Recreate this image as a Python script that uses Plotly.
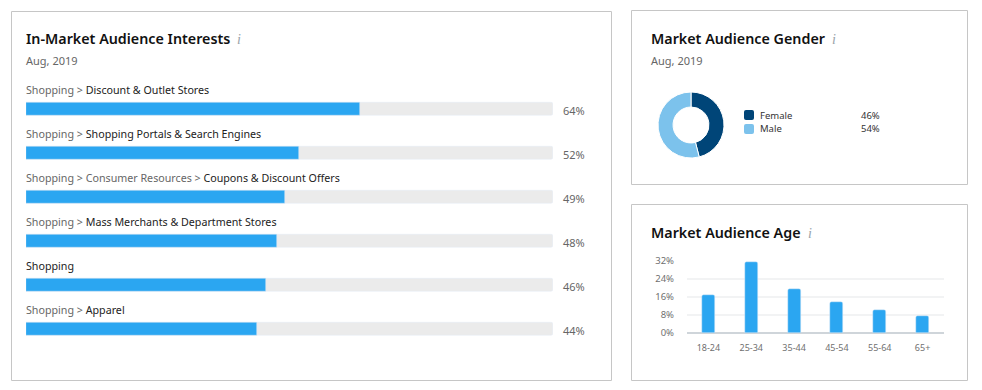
import plotly.graph_objects as go

W, H = 982, 390

# ---- data ----
interest_parents = ["Shopping > ", "Shopping > ", "Shopping > Consumer Resources > ",
                    "Shopping > ", "", "Shopping > "]
interest_leaves = ["Discount & Outlet Stores", "Shopping Portals & Search Engines",
                   "Coupons & Discount Offers", "Mass Merchants & Department Stores",
                   "Shopping", "Apparel"]
interest_values = [63.4, 51.8, 49.1, 47.6, 45.5, 43.8]
interest_labels = ["64%", "52%", "49%", "48%", "46%", "44%"]
track_values = [100, 100, 100, 100, 100, 100]

gender_labels = ["Female", "Male"]
gender_values = [46, 54]
gender_texts = ["46%", "54%"]

age_labels = ["18-24", "25-34", "35-44", "45-54", "55-64", "65+"]
age_values = [17.0, 31.4, 19.4, 13.6, 10.4, 7.6]
age_ticks = [0, 8, 16, 24, 32]
age_ticktext = ["0%", "8%", "16%", "24%", "32%"]

# ---- style ----
FONT = "Noto Sans"
BLUE = "#2ba6f1"
TRACK = "#ebebeb"
BORDER = "#c6c6c6"
DARK = "#004578"
LIGHT = "#7cc2ec"
INK = "#111111"
GREY = "#666666"


def px(x):
    return x / W


def py(y):
    return 1 - y / H


def rrect(x0, y0, x1, y1, r=2):
    X0, X1, Y0, Y1 = px(x0), px(x1), py(y0), py(y1)
    rx, ry = r / W, r / H
    return (f"M{X0+rx},{Y0} L{X1-rx},{Y0} Q{X1},{Y0} {X1},{Y0-ry} L{X1},{Y1+ry} Q{X1},{Y1} {X1-rx},{Y1} "
            f"L{X0+rx},{Y1} Q{X0},{Y1} {X0},{Y1+ry} L{X0},{Y0-ry} Q{X0},{Y0} {X0+rx},{Y0} Z")


fig = go.Figure()

rows = list(range(len(interest_leaves)))
fig.add_trace(go.Bar(x=track_values, y=rows, orientation="h", marker_color=TRACK,
                     width=13 / 44, xaxis="x", yaxis="y", hoverinfo="skip"))
fig.add_trace(go.Bar(x=interest_values, y=rows, orientation="h", marker_color=BLUE,
                     width=13 / 44, xaxis="x", yaxis="y"))

fig.add_trace(go.Pie(labels=gender_labels, values=gender_values, hole=0.545, sort=False,
                     direction="clockwise", rotation=0, textinfo="none", showlegend=False,
                     marker=dict(colors=[DARK, LIGHT], line=dict(color="white", width=1)),
                     domain=dict(x=[px(658), px(724)], y=[py(158), py(92)])))

fig.add_trace(go.Bar(x=age_labels, y=age_values, marker_color=BLUE, width=0.3,
                     xaxis="x2", yaxis="y2"))

annotations = []


def text(x, y, s, size=11, color=GREY, anchor="left", family=FONT, weight=None):
    annotations.append(dict(xref="paper", yref="paper", x=px(x), y=py(y), text=s, showarrow=False,
                            xanchor=anchor, yanchor="middle", align="left",
                            font=dict(family=family, size=size, color=color, weight=weight),
                            borderpad=0, borderwidth=0))


def title(x, y, s, icon_x):
    text(x, y, s, size=14.3, color=INK, weight=600)
    text(icon_x, y + 1, "<i>i</i>", size=14, color="#98a3a9", family="Liberation Serif")


title(26, 38.5, "In-Market Audience Interests", 237)
text(26, 60.5, "Aug, 2019")
title(651, 38.5, "Market Audience Gender", 832)
text(651, 60.5, "Aug, 2019")
title(651, 232, "Market Audience Age", 808)

for i, (parent, leaf, label) in enumerate(zip(interest_parents, interest_leaves, interest_labels)):
    s = (f"<span style='color:{GREY}'>{parent}</span>" if parent else "") + f"<span style='color:#222222'>{leaf}</span>"
    annotations.append(dict(xref="x", yref="y", x=0, y=i, xshift=-1, yshift=19, text=s, showarrow=False, borderpad=0,
                            xanchor="left", yanchor="middle", font=dict(family=FONT, size=10.7)))
    annotations.append(dict(xref="x", yref="y", x=100, y=i, xshift=9, yshift=-1.5, text=label, showarrow=False, borderpad=0,
                            xanchor="left", yanchor="middle", font=dict(family=FONT, size=11, color=GREY)))

swatch_y = [115, 129]
shapes = [
    dict(type="rect", xref="paper", yref="paper", x0=px(x0), x1=px(x1), y0=py(y1), y1=py(y0),
         line=dict(color=BORDER, width=1), fillcolor="white", layer="below")
    for x0, y0, x1, y1 in [(11.5, 11.5, 611.5, 380.5), (631.5, 10.5, 967.5, 184.5), (631.5, 204.5, 967.5, 380.5)]
]
for name, val, yc, col in zip(gender_labels, gender_texts, swatch_y, [DARK, LIGHT]):
    shapes.append(dict(type="path", xref="paper", yref="paper", path=rrect(744, yc - 5, 754, yc + 5),
                       fillcolor=col, line=dict(width=0)))
    text(760, yc, name, size=9.5, color="#333333")
    text(861, yc, val, size=9.5, color="#333333")

fig.update_layout(
    width=W, height=H, margin=dict(l=0, r=0, t=0, b=0, autoexpand=False), autosize=False,
    paper_bgcolor="white", plot_bgcolor="rgba(0,0,0,0)", showlegend=False,
    barmode="overlay", bargap=0, barcornerradius=2,
    font=dict(family=FONT, size=9, color=GREY),
    shapes=shapes, annotations=annotations,
    xaxis=dict(domain=[px(26), px(553)], range=[0, 100], visible=False, fixedrange=True),
    yaxis=dict(domain=[py(350.5), py(86.5)], range=[5.5, -0.5], visible=False, fixedrange=True),
    xaxis2=dict(domain=[px(687), px(944)], anchor="y2", type="category", showgrid=False,
                showline=False, ticks="", ticklabelstandoff=8, automargin=False,
                tickfont=dict(family=FONT, size=9, color="#707070"), fixedrange=True),
    yaxis2=dict(domain=[py(333), py(261)], anchor="x2", range=[0, 32], tickvals=age_ticks,
                ticktext=age_ticktext, showgrid=True, gridcolor="#f2f3f4", gridwidth=2,
                zeroline=True, zerolinecolor="#cfd5da", zerolinewidth=2, showline=False,
                ticks="", ticklabelstandoff=12, automargin=False,
                tickfont=dict(family=FONT, size=9.5, color="#707070"), fixedrange=True),
)

fig.write_html("out.html", post_script="document.body.style.margin='0';",
               config=dict(displayModeBar=False))
